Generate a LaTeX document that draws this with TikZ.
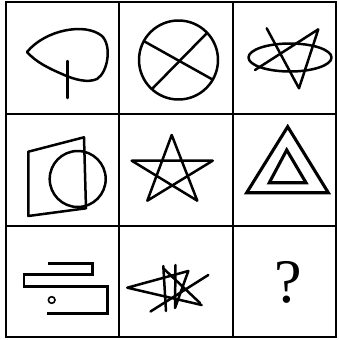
\documentclass[tikz,border=0pt]{standalone}
\usepackage{fontspec}
\usepackage{tikz}
\usetikzlibrary{positioning}
\newfontfamily\qfont{Liberation Serif}
\tikzset{%
  gridline/.style={line width=2.3pt,black},
  figline/.style={line width=2.5pt,black,line join=round,line cap=round},
  boldline/.style={line width=3.1pt,black,line join=miter},
  qmark/.style={font=\qfont\fontsize{62}{66}\selectfont,inner sep=0pt}
}
\begin{document}
\begin{tikzpicture}[x=1pt,y=-1pt]
      \useasboundingbox (0,0) rectangle (338,340);
      % grid
      \draw[gridline] (6,2) rectangle (336,337);
      \draw[gridline] (119,2) -- (119,337);
      \draw[gridline] (233,2) -- (233,337);
      \draw[gridline] (6,114) -- (336,114);
      \draw[gridline] (6,226) -- (336,226);
      % row 1
      \draw[figline] (27,52) .. controls (45,30) and (85,22) .. (102,36)
        .. controls (112,46) and (108,72) .. (97,79)
        .. controls (88,83) and (75,80) .. (62,74)
        .. controls (48,68) and (36,62) .. (27,52);
      \draw[figline] (67.7,61) -- (67.7,98);
      \draw[figline] (178.5,60) circle (39.5);
      \draw[figline] (144.5,41.5) -- (212.5,79.5);
      \draw[figline] (206.5,33.5) -- (152.5,88.5);
      \draw[figline] (290,57.5) ellipse (41.5 and 14);
      \draw[figline] (266.7,28.3) -- (299,88.3) -- (318.3,29.3) -- (255,70);
      % row 2
      \draw[figline] (28.3,151.7) -- (84,137.3) -- (86,208.3) -- (28.3,216) -- cycle;
      \draw[figline] (77.7,179) circle (28);
      \draw[figline] (171.7,135) -- (147.3,200.7) -- (212.7,160.7)
        -- (131.7,160.7) -- (197.3,200.7) -- cycle;
      \draw[boldline] (287.7,126.7) -- (246.7,192.7) -- (328.3,192.7) -- cycle;
      \draw[boldline] (286.7,150) -- (269.3,182.7) -- (306,182.7) -- cycle;
      % row 3
      \draw[figline,line cap=butt,line join=miter] (48.3,263.3) -- (92.3,263.3) -- (92.3,274.3)
        -- (24,274.3) -- (24,286.7) -- (107.3,286.7) -- (107.3,313.3) -- (46.7,313.3);
      \draw[line width=1.6pt] (51.7,300) circle (3.3);
      \draw[figline] (188.3,271) -- (127.3,287.7) -- (201.7,305);
      \draw[figline] (208.3,275) -- (150.5,311.5);
      \draw[figline] (163.3,266) -- (166,311);
      \draw[figline] (175.5,265) -- (175,308) -- (188.3,271);
      \draw[figline] (164,269) -- (200,303);
      \node[qmark] (quest) at (288.5,282) {?};
\end{tikzpicture}
\end{document}
